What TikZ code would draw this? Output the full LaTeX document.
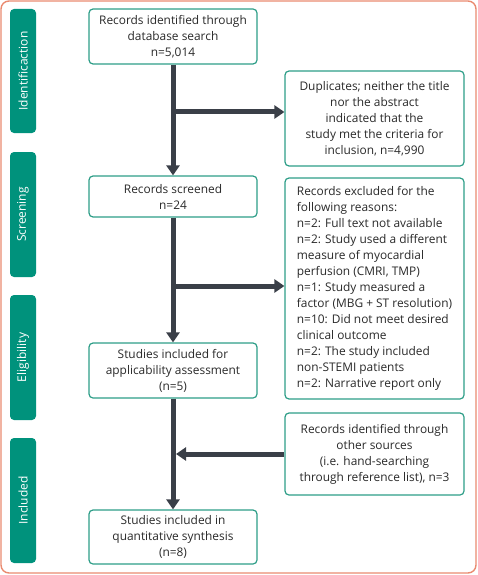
\documentclass[tikz,border=0pt]{standalone}
\usepackage{fontspec}
\setmainfont{Open Sans}
\usetikzlibrary{arrows.meta}
\definecolor{phasec}{HTML}{00927C}
\definecolor{boxc}{HTML}{2E9E88}
\definecolor{linec}{HTML}{3A3F48}
\definecolor{txt}{HTML}{2A2A2A}
\definecolor{framec}{HTML}{EA8B70}
\begin{document}
\begin{tikzpicture}[x=1pt,y=-1pt,
  box/.style={draw=boxc, line width=1.2pt, rounded corners=4pt, fill=white,
    align=center, font=\fontsize{11.9}{16}\selectfont, text=txt, inner sep=0pt},
  phase/.style={fill=phasec, rounded corners=4pt, minimum height=26pt,
    text=white, rotate=90, inner sep=0pt, font=\fontsize{12}{14}\selectfont},
  conn/.style={line width=5pt, draw=linec},
  arr/.style={conn, -{Triangle[width=13pt,length=10pt]}}
]
\useasboundingbox (0,0) rectangle (477,575);
\draw[framec, line width=1.4pt, rounded corners=8pt] (1,1) rectangle (476,573);

% phase labels
\node[phase, minimum width=124pt] (pid) at (23,71) {Identificaction};
\node[phase, minimum width=125pt] (psc) at (23,214.5) {Screening};
\node[phase, minimum width=125pt] (pel) at (23,357.5) {Eligibility};
\node[phase, minimum width=125pt] (pin) at (23,500.5) {Included};

% main boxes
\node[box, minimum width=168pt, minimum height=55pt] (b1) at (173,36.5)
  {Records identified through\\database search\\n=5,014};
\node[box, minimum width=168pt, minimum height=41pt] (b2) at (173,196.5)
  {Records screened\\n=24};
\node[box, minimum width=168pt, minimum height=55pt] (b3) at (173,370.5)
  {Studies included for\\applicability assessment\\(n=5)};
\node[box, minimum width=168pt, minimum height=54pt] (b4) at (173,537)
  {Studies included in\\quantitative synthesis\\(n=8)};

% right boxes
\node[box, minimum width=179pt, minimum height=95pt] (dup) at (374.5,118.5)
  {Duplicates; neither the title\\nor the abstract\\indicated that the\\study met the criteria for\\inclusion, n=4,990};
\node[box, minimum width=179pt, minimum height=221pt, align=left] (exc) at (374.5,288.5)
  {\begin{tabular}{@{}l@{}}Records excluded for the\\following reasons:\\n=2: Full text not available\\n=2: Study used a different\\measure of myocardial\\perfusion (CMRI, TMP)\\n=1: Study measured a\\factor (MBG + ST resolution)\\n=10: Did not meet desired\\clinical outcome\\n=2: The study included\\non-STEMI patients\\n=2: Narrative report only\end{tabular}};
\node[box, minimum width=179pt, minimum height=82pt] (oth) at (374.5,454)
  {Records identified through\\other sources\\(i.e. hand-searching\\through reference list), n=3};

% connectors
\coordinate (j1) at (173,112);
\coordinate (j2) at (173,286);
\coordinate (j3) at (176,454);
\draw[arr] (b1.south) -- (b2.north);
\draw[arr] (j1) -- (j1 -| dup.west);
\draw[arr] (b2.south) -- (b3.north);
\draw[arr] (j2) -- (j2 -| exc.west);
\draw[arr] (b3.south) -- (b4.north);
\draw[arr] (oth.west |- j3) -- (j3);
\end{tikzpicture}
\end{document}
